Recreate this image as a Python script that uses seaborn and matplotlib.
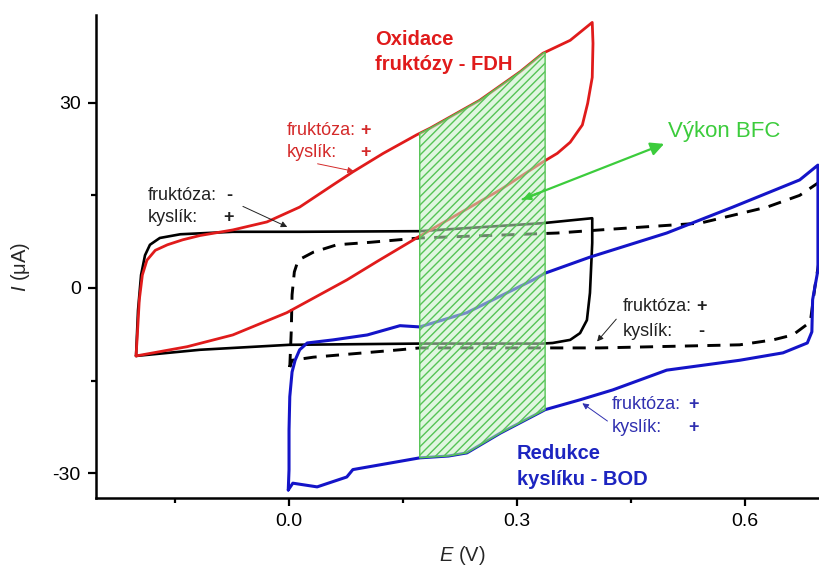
import numpy as np
import pandas as pd
import matplotlib
matplotlib.use("Agg")
import matplotlib.pyplot as plt
import seaborn as sns

# ---- data (E in V, I in uA) ----
# red: fruktóza +, kyslík + (oxidation, FDH electrode)
red_E_fwd = [-0.2013, -0.200, -0.197, -0.193, -0.187, -0.176, -0.160, -0.140, -0.117, -0.074,
             -0.029, 0.014, 0.058, 0.084, 0.124, 0.168, 0.186, 0.251, 0.304, 0.334, 0.370, 0.399]
red_I_fwd = [-11.0, -8.4, -1.9, 2.1, 4.5, 6.1, 7.0, 7.8, 8.5, 9.4,
             10.7, 13.1, 16.7, 18.8, 21.8, 24.8, 25.9, 30.4, 35.0, 38.0, 40.1, 43.0]
red_E_rev = [0.399, 0.400, 0.399, 0.393, 0.386, 0.370, 0.353, 0.334, 0.304, 0.278, 0.172,
             0.116, 0.076, -0.003, -0.074, -0.134, -0.2013]
red_I_rev = [43.0, 39.6, 34.1, 29.9, 26.4, 23.6, 21.8, 20.4, 18.0, 15.9, 8.4,
             4.3, 1.3, -4.0, -7.6, -9.5, -11.0]

# black solid: fruktóza -, kyslík +
blk_E_fwd = [-0.2013, -0.1987, -0.1947, -0.1895, -0.183, -0.170, -0.143, -0.074, 0.014,
             0.172, 0.334, 0.399]
blk_I_fwd = [-11.0, -3.6, 2.1, 5.3, 7.0, 8.1, 8.7, 9.1, 9.1,
             9.2, 10.5, 11.3]
blk_E_rev = [0.399, 0.399, 0.396, 0.392, 0.383, 0.370, 0.347, 0.334, 0.172, 0.0, -0.117, -0.2013]
blk_I_rev = [11.3, 7.3, -0.8, -5.2, -7.3, -8.4, -8.9, -9.0, -9.0, -9.2, -10.0, -11.0]

# black dashed: fruktóza +, kyslík -
dsh_E_fwd = [0.001, 0.003, 0.004, 0.007, 0.012, 0.032, 0.063, 0.107, 0.172, 0.353,
             0.409, 0.541, 0.629, 0.672, 0.696, 0.700]
dsh_I_fwd = [-12.8, -6.8, -1.1, 2.6, 4.5, 5.8, 7.0, 7.4, 8.1, 8.9,
             9.4, 10.5, 13.1, 15.0, 17.0, 17.5]
dsh_E_rev = [0.700, 0.697, 0.692, 0.686, 0.663, 0.637, 0.593, 0.409, 0.172, 0.146,
             0.032, 0.004, 0.001]
dsh_I_rev = [17.5, 4.0, 0.2, -5.5, -7.6, -8.4, -9.2, -9.7, -9.7, -10.0,
             -11.2, -11.7, -12.8]

# blue: fruktóza +, kyslík + (oxygen reduction, BOD electrode)
blu_E_fwd = [-0.001, 0.0, 0.0, 0.001, 0.004, 0.008, 0.014, 0.024, 0.058, 0.103,
             0.146, 0.172, 0.234, 0.321, 0.337, 0.396, 0.497, 0.584, 0.672, 0.696]
blu_I_fwd = [-32.7, -29.4, -23.0, -17.6, -13.6, -11.7, -10.0, -8.9, -8.4, -7.6,
             -6.1, -6.3, -4.0, 1.3, 2.4, 5.0, 8.9, 13.1, 17.5, 19.9]
blu_E_rev = [0.696, 0.696, 0.689, 0.688, 0.682, 0.650, 0.593, 0.497, 0.426, 0.383,
             0.337, 0.278, 0.234, 0.210, 0.172, 0.084, 0.076, 0.037, 0.005, -0.001]
blu_I_rev = [19.9, 2.9, -1.9, -7.1, -8.9, -10.5, -11.7, -13.3, -16.5, -18.1,
             -19.7, -23.5, -26.7, -27.2, -27.5, -29.4, -30.6, -32.2, -31.6, -32.7]

# BFC power window
bfc_E = [0.172, 0.337]

x_ticks = [0.0, 0.3, 0.6]
x_minor = [-0.15, 0.15, 0.45]
y_ticks = [-30, 0, 30]
y_minor = [-15, 15]

# ---- style ----
sns.set_style("ticks")
plt.rcParams["font.family"] = ["Liberation Sans", "DejaVu Sans"]
plt.rcParams["axes.unicode_minus"] = False
plt.rcParams["mathtext.fontset"] = "custom"
plt.rcParams["mathtext.it"] = "Liberation Sans:italic"
plt.rcParams["mathtext.rm"] = "Liberation Sans"

RED = "#e01b1b"
BLUE = "#1414c8"
GREEN = "#3ccc3c"

fig = plt.figure(figsize=(8.19, 5.69), dpi=100)
ax = fig.add_axes([96 / 819, 1 - 498 / 569, (819 - 96) / 819, (498 - 15) / 569])


def curve(Ef, If, Er, Ir):
    return pd.DataFrame({"E": list(Ef) + list(Er), "I": list(If) + list(Ir)})


red = curve(red_E_fwd, red_I_fwd, red_E_rev, red_I_rev)
blk = curve(blk_E_fwd, blk_I_fwd, blk_E_rev, blk_I_rev)
dsh = curve(dsh_E_fwd, dsh_I_fwd, dsh_E_rev, dsh_I_rev)
blu = curve(blu_E_fwd, blu_I_fwd, blu_E_rev, blu_I_rev)

sns.lineplot(data=blk, x="E", y="I", sort=False, estimator=None, color="black",
             linewidth=1.9, ax=ax, zorder=3)
sns.lineplot(data=dsh, x="E", y="I", sort=False, estimator=None, color="black",
             linewidth=2.1, ax=ax, zorder=3)
ax.lines[-1].set_dashes((4.5, 3.2))
sns.lineplot(data=blu, x="E", y="I", sort=False, estimator=None, color=BLUE,
             linewidth=2.2, ax=ax, zorder=4)
sns.lineplot(data=red, x="E", y="I", sort=False, estimator=None, color=RED,
             linewidth=2.0, ax=ax, zorder=4)
for ln in ax.lines:
    ln.set_solid_joinstyle("round")

# hatched region between red forward branch and blue return branch
fe = np.linspace(bfc_E[0], bfc_E[1], 80)
top = np.interp(fe, red_E_fwd, red_I_fwd)
bot = np.interp(fe, blu_E_rev[::-1], blu_I_rev[::-1])
plt.rcParams["hatch.linewidth"] = 1.0
ax.fill_between(fe, bot, top, facecolor=(0.78, 0.94, 0.78, 0.55), edgecolor="#55c455",
                hatch="////", linewidth=1.0, zorder=5)

ax.set_xlim(-0.254, 0.6974)
ax.set_ylim(-34.0, 44.2)
ax.set_xticks(x_ticks)
ax.set_xticklabels([f"{v:.1f}" for v in x_ticks])
ax.set_xticks(x_minor, minor=True)
ax.set_yticks(y_ticks)
ax.set_yticklabels([str(v) for v in y_ticks])
ax.set_yticks(y_minor, minor=True)

for s in ["top", "right"]:
    ax.spines[s].set_visible(False)
for s in ["left", "bottom"]:
    ax.spines[s].set_linewidth(1.8)
    ax.spines[s].set_color("black")
ax.tick_params(which="major", direction="out", length=6, width=1.6, labelsize=14,
               pad=5, color="black", labelcolor="black")
ax.tick_params(which="minor", direction="out", length=3.5, width=1.6, color="black")

ax.set_xlabel(r"$E$ (V)", fontsize=14.5)
ax.set_ylabel(r"$I$ ($\mathrm{\mu}$A)", fontsize=14.5)
ax.xaxis.set_label_coords(0.506, -0.096)
ax.yaxis.set_label_coords(-0.088, 0.478)

# ---- annotations ----
ax.text(0.113, 39.3, "Oxidace", color=RED, fontsize=14.5, fontweight="bold", va="baseline")
ax.text(0.113, 35.3, "fruktózy - FDH", color=RED, fontsize=14.5, fontweight="bold", va="baseline")
ax.text(0.300, -27.7, "Redukce", color="#1c24c0", fontsize=14.5, fontweight="bold", va="baseline")
ax.text(0.300, -31.9, "kyslíku - BOD", color="#1c24c0", fontsize=14.5, fontweight="bold", va="baseline")
ax.text(0.499, 24.4, "Výkon BFC", color=GREEN, fontsize=16, va="baseline")

ax.annotate("", xy=(0.497, 23.5), xytext=(0.304, 14.2),
            arrowprops=dict(arrowstyle="-|>", color=GREEN, lw=1.6, mutation_scale=20), zorder=7)
ax.annotate("", xy=(0.304, 14.2), xytext=(0.33, 15.45),
            arrowprops=dict(arrowstyle="-|>", color=GREEN, lw=1.6, mutation_scale=11), zorder=7)


def label(x, y1, y2, xs, s1, s2, color, tip, tail):
    ax.text(x, y1, "fruktóza:", color=color, fontsize=13, va="baseline")
    ax.text(x, y2, "kyslík:", color=color, fontsize=13, va="baseline")
    ax.text(xs, y1, s1, color=color, fontsize=13, fontweight="bold", va="baseline", ha="center")
    ax.text(xs, y2, s2, color=color, fontsize=13, fontweight="bold", va="baseline", ha="center")
    ax.annotate("", xy=tip, xytext=tail,
                arrowprops=dict(arrowstyle="-|>", color=color, lw=0.7, mutation_scale=9), zorder=7)


label(-0.003, 24.8, 21.2, 0.101, "+", "+", "#d42a2a", (0.089, 18.8), (0.034, 20.2))
label(-0.186, 14.2, 10.7, -0.079, "-", "+", "#222222", (0.001, 9.7), (-0.064, 13.4))
label(0.439, -3.7, -7.8, 0.543, "+", "-", "#222222", (0.403, -9.0), (0.433, -4.7))
label(0.425, -19.6, -23.3, 0.532, "+", "+", "#3030b0", (0.383, -18.4), (0.422, -21.8))

fig.savefig("out.png", dpi=100)
